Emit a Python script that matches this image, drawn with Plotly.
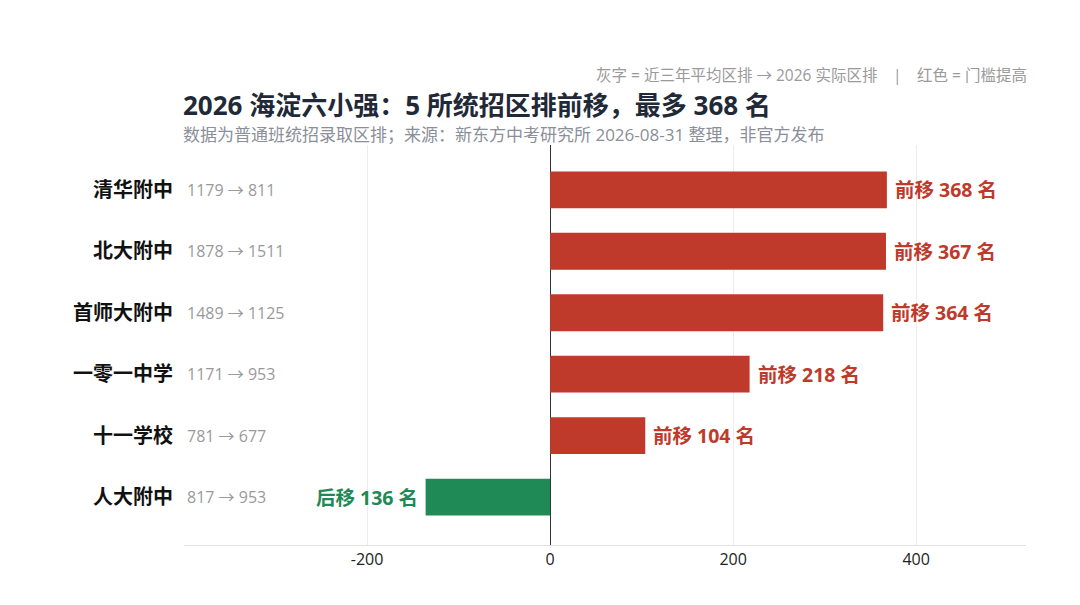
import plotly.graph_objects as go

schools = ["人大附中", "十一学校", "一零一中学", "首师大附中", "北大附中", "清华附中"]
avg_rank = [817, 781, 1171, 1489, 1878, 1179]
rank_2026 = [953, 677, 953, 1125, 1511, 811]
shift = [-136, 104, 218, 364, 367, 368]
x_ticks = [-200, 0, 200, 400]
x_tick_text = ["-200", "0", "200", "400"]

RED = "#bf3a2b"
GREEN = "#1f8a55"
FONT = "Open Sans, Noto Sans CJK SC"

colors = [RED if s > 0 else GREEN for s in shift]
labels = [("前移 %d 名" % s) if s > 0 else ("后移 %d 名" % -s) for s in shift]

fig = go.Figure(go.Bar(
    x=shift, y=list(range(len(schools))), orientation="h",
    marker=dict(color=colors, line=dict(width=0)),
    width=0.6, hoverinfo="skip",
))

for i, (s, lab, c) in enumerate(zip(shift, labels, colors)):
    fig.add_annotation(x=s, y=i, xanchor="left" if s > 0 else "right",
                       xshift=6 if s > 0 else -6, text=f"<b>{lab}</b>", showarrow=False,
                       font=dict(family=FONT, size=19.5, color=c))

for i, (a, b) in enumerate(zip(avg_rank, rank_2026)):
    fig.add_annotation(x=0, xref="paper", y=i, yref="y", xanchor="left", xshift=1,
                       text=f"{a} → {b}", showarrow=False,
                       font=dict(family=FONT, size=16, color="#9a9a9a"))

fig.add_annotation(x=0, xref="paper", y=1.1, yref="paper", xanchor="left", yanchor="middle",
                   xshift=-3,
                   text="<b>2026 海淀六小强：5 所统招区排前移，最多 368 名</b>", showarrow=False,
                   font=dict(family=FONT, size=26, color="#1f2937"))
fig.add_annotation(x=0, xref="paper", y=1.026, yref="paper", xanchor="left", yanchor="middle",
                   xshift=-3,
                   text="数据为普通班统招录取区排；来源：新东方中考研究所 2026-08-31 整理，非官方发布",
                   showarrow=False, font=dict(family=FONT, size=17, color="#8a8f99"))
fig.add_annotation(x=1, xref="paper", y=1.175, yref="paper", xanchor="right", yanchor="middle",
                   xshift=3,
                   text="灰字 = 近三年平均区排 → 2026 实际区排　|　红色 = 门槛提高",
                   showarrow=False, font=dict(family=FONT, size=15.5, color="#9a9a9a"))

fig.update_layout(
    width=1064, height=589,
    margin=dict(l=176, r=46, t=137, b=52),
    paper_bgcolor="white", plot_bgcolor="white",
    showlegend=False,
    font=dict(family=FONT),
    xaxis=dict(range=[-400, 520], tickvals=x_ticks, ticktext=x_tick_text,
               showgrid=True, gridcolor="#ececec", gridwidth=1,
               zeroline=True, zerolinecolor="#333333", zerolinewidth=1.2,
               showline=True, linecolor="#e0e0e0", linewidth=1,
               tickfont=dict(family=FONT, size=16, color="#222222"), ticks=""),
    yaxis=dict(range=[-0.78, 5.73], tickvals=list(range(len(schools))),
               ticktext=[f"<b>{s}</b>" for s in schools],
               tickfont=dict(family=FONT, size=20, color="#111111"),
               showgrid=False, zeroline=False, ticklabelstandoff=10),
)

fig.write_html("out.html")
